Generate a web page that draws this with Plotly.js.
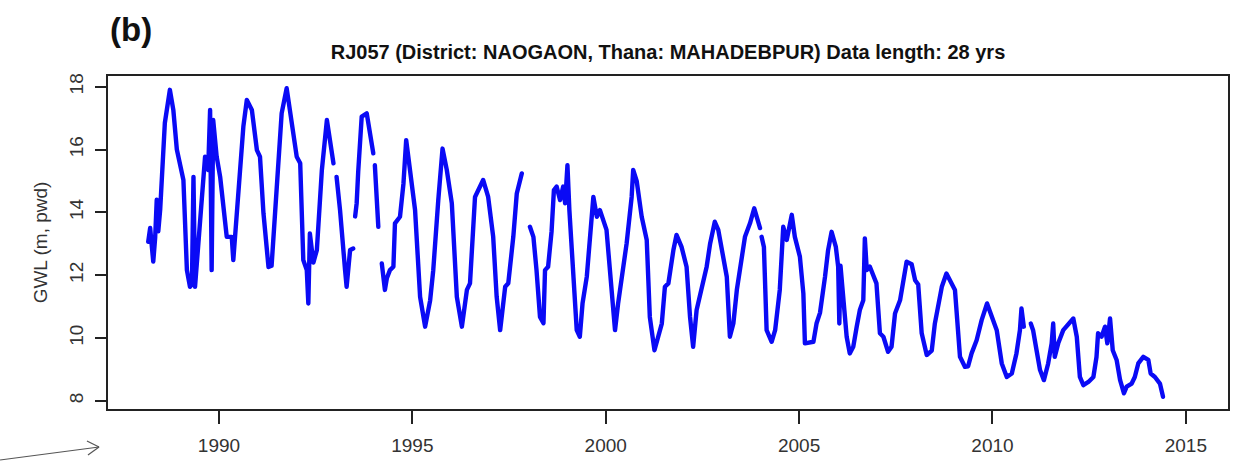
<!DOCTYPE html>
<html>
<head>
<meta charset="utf-8">
<script src="https://cdn.plot.ly/plotly-3.0.1.min.js"></script>
<style>
  html, body { margin: 0; padding: 0; background: #ffffff; }
  #chart { width: 1238px; height: 462px; }
  #chart .scatterlayer .js-line { stroke-linejoin: round !important; stroke-linecap: round !important; }
</style>
</head>
<body>
<div id="chart"></div>
<script>
// Decimal year of each reading (null value = gap in record)
const year = [
  1988.17,1988.22,1988.30,1988.35,1988.39,1988.43,1988.48,1988.52,1988.60,1988.73,1988.82,1988.91,1988.99,
  1989.08,1989.17,1989.25,1989.30,1989.34,1989.38,1989.47,1989.60,1989.64,1989.72,1989.77,1989.81,1989.85,1989.94,
  1990.03,1990.20,1990.33,1990.37,1990.46,1990.63,1990.72,1990.85,1990.98,
  1991.06,1991.15,1991.28,1991.36,1991.49,1991.62,1991.75,1991.88,
  1992.01,1992.10,1992.18,1992.27,1992.31,1992.35,1992.44,1992.53,1992.66,1992.79,1992.87,1992.96,
  1993.00,
  1993.04,1993.13,1993.26,1993.30,1993.39,1993.47,
  1993.50,
  1993.52,1993.56,1993.60,1993.69,1993.82,1993.91,1993.99,
  1994.01,
  1994.03,1994.12,
  1994.16,
  1994.21,1994.29,1994.34,1994.42,1994.51,1994.55,1994.68,1994.77,1994.84,1994.94,
  1995.07,1995.20,1995.33,1995.46,1995.54,1995.67,1995.78,1995.89,
  1996.02,1996.15,1996.28,1996.41,1996.49,1996.62,1996.83,1996.96,
  1997.09,1997.18,1997.27,1997.40,1997.48,1997.61,1997.70,1997.83,
  1997.94,
  1998.04,1998.13,1998.21,1998.30,1998.39,1998.43,1998.51,1998.60,1998.66,1998.73,1998.82,1998.90,1998.95,
  1999.01,1999.06,1999.16,1999.25,1999.33,1999.40,1999.51,1999.68,1999.77,1999.85,
  2000.02,2000.15,2000.24,2000.32,2000.45,2000.54,2000.67,2000.71,2000.80,2000.93,
  2001.06,2001.14,2001.26,2001.36,2001.45,2001.53,2001.62,2001.75,2001.83,2001.96,
  2002.09,2002.18,2002.26,2002.35,2002.48,2002.61,2002.70,2002.82,2002.91,
  2003.04,2003.13,2003.21,2003.30,2003.39,2003.51,2003.60,2003.73,2003.84,2003.99,
  2004.01,
  2004.03,2004.09,2004.16,2004.29,2004.38,2004.50,2004.59,2004.68,2004.81,2004.89,
  2005.02,2005.11,2005.15,2005.37,2005.45,2005.54,2005.67,2005.75,2005.84,2005.95,
  2006.01,2006.04,2006.07,2006.14,2006.23,2006.31,2006.40,2006.49,2006.57,2006.66,2006.70,2006.75,2006.83,
  2007.00,2007.09,2007.18,2007.30,2007.39,2007.48,2007.61,2007.78,2007.91,
  2008.00,2008.08,2008.17,2008.30,2008.43,2008.51,2008.69,2008.81,2008.94,
  2009.03,2009.16,2009.29,2009.37,2009.46,2009.59,2009.72,2009.86,2009.98,
  2010.11,2010.24,2010.37,2010.50,2010.62,2010.71,2010.75,2010.81,
  2010.90,
  2010.99,2011.05,2011.14,2011.23,2011.33,2011.44,2011.53,2011.57,2011.61,2011.70,2011.83,2011.96,
  2012.09,2012.18,2012.26,2012.35,2012.48,2012.61,2012.69,2012.73,2012.82,2012.91,2012.97,
  2013.04,2013.11,2013.21,2013.30,2013.40,2013.47,2013.60,2013.68,2013.77,2013.90,
  2014.03,2014.09,2014.20,2014.33,2014.41
];
// Groundwater level (m, pwd)
const gwl = [
  13.06,13.50,12.43,13.20,14.40,13.40,14.10,15.10,16.85,17.90,17.25,16.00,15.56,
  15.03,12.16,11.63,11.70,15.13,11.63,13.00,15.03,15.77,15.35,17.26,12.16,16.94,15.77,
  15.13,13.22,13.22,12.48,14.07,16.73,17.58,17.26,15.98,
  15.77,13.97,12.26,12.30,14.86,17.15,17.95,16.94,
  15.77,15.56,12.48,12.16,11.10,13.33,12.40,12.80,15.35,16.94,16.30,15.56,
  null,
  15.13,14.07,12.16,11.63,12.80,12.85,
  null,
  13.87,14.29,15.30,17.05,17.15,16.52,15.88,
  null,
  15.50,13.54,
  null,
  12.37,11.53,11.90,12.16,12.27,13.65,13.86,14.92,16.30,15.35,
  14.07,11.31,10.36,11.20,12.16,14.39,16.03,15.35,
  14.29,11.31,10.36,11.53,11.74,14.49,15.03,14.49,
  13.22,11.31,10.25,11.63,11.74,13.22,14.60,15.24,
  null,
  13.54,13.22,12.16,10.67,10.47,12.16,12.27,13.40,14.71,14.82,14.39,14.82,14.29,
  15.50,14.07,11.95,10.25,10.04,11.10,11.95,14.49,13.86,14.07,
  13.44,11.63,10.25,11.10,12.20,13.01,14.49,15.35,15.00,13.86,
  13.12,10.67,9.61,10.04,10.46,11.63,11.74,12.80,13.28,12.90,
  12.27,10.67,9.72,10.89,11.53,12.27,13.01,13.70,13.44,
  12.59,11.95,10.04,10.46,11.53,12.48,13.22,13.65,14.13,13.50,
  null,
  13.22,12.90,10.25,9.88,10.25,11.53,13.54,13.12,13.92,13.22,
  12.59,11.42,9.83,9.88,10.46,10.80,11.95,12.80,13.38,12.90,
  12.27,10.46,12.30,11.20,10.04,9.51,9.72,10.36,10.89,11.20,13.17,12.16,12.27,
  11.74,10.15,10.04,9.56,9.72,10.78,11.20,12.43,12.35,
  11.84,11.70,10.15,9.46,9.60,10.46,11.63,12.05,11.74,
  11.53,9.40,9.08,9.10,9.51,9.93,10.57,11.10,10.67,
  10.25,9.19,8.76,8.87,9.51,10.25,10.94,10.36,
  null,
  10.46,10.25,9.61,8.98,8.66,9.19,9.83,10.46,9.40,9.83,10.25,10.46,
  10.62,10.04,8.76,8.50,8.60,8.76,9.40,10.15,10.04,10.36,9.83,
  10.62,9.61,9.30,8.66,8.24,8.45,8.55,8.76,9.19,9.40,
  9.30,8.87,8.76,8.55,8.13
];
const xTicks = [1990, 1995, 2000, 2005, 2010, 2015];
const yTicks = [8, 10, 12, 14, 16, 18];
const plotTitle = 'RJ057 (District: NAOGAON, Thana: MAHADEBPUR) Data length: 28 yrs';
const panelLabel = '(b)';
const yLabel = 'GWL (m, pwd)';

const FONT = '"Liberation Sans", Arial, Helvetica, sans-serif';
const AX = '#222222';

const trace = {
  x: year, y: gwl, type: 'scatter', mode: 'lines',
  connectgaps: false,
  line: { color: '#0a0af5', width: 4.4 },
  hoverinfo: 'x+y'
};

const arrowGrey = '#555555';
const layout = {
  width: 1238, height: 462,
  paper_bgcolor: '#ffffff', plot_bgcolor: '#ffffff',
  margin: { l: 108, r: 10, t: 76, b: 53, pad: 0 },
  showlegend: false,
  font: { family: FONT, color: '#333333', size: 18 },
  title: {
    text: '<b>' + plotTitle + '</b>',
    font: { family: FONT, size: 20, color: '#111111' },
    x: 0.5, xref: 'paper', xanchor: 'center',
    y: 1, yref: 'paper', yanchor: 'bottom', pad: { b: 17 }
  },
  xaxis: {
    range: [1987.13, 2016.09], autorange: false,
    tickmode: 'array', tickvals: xTicks, ticktext: xTicks.map(String),
    ticks: 'outside', ticklen: 13, tickwidth: 2, tickcolor: AX,
    showline: true, linewidth: 2, linecolor: AX, mirror: true,
    showgrid: false, zeroline: false,
    tickfont: { family: FONT, size: 19, color: '#333333' },
    ticklabelstandoff: 5
  },
  yaxis: {
    range: [7.74, 18.34], autorange: false,
    tickmode: 'array', tickvals: yTicks, ticktext: yTicks.map(String),
    ticks: 'outside', ticklen: 11, tickwidth: 2, tickcolor: AX,
    showline: true, linewidth: 2, linecolor: AX, mirror: true,
    showgrid: false, zeroline: false,
    tickangle: -90,
    tickfont: { family: FONT, size: 19, color: '#333333' },
    ticklabelstandoff: 4,
    title: { text: yLabel, font: { family: FONT, size: 19, color: '#333333' }, standoff: 14 }
  },
  annotations: [
    {
      text: '<b>' + panelLabel + '</b>', xref: 'paper', yref: 'paper',
      x: 0.0, y: 1.141, xanchor: 'left', yanchor: 'middle',
      showarrow: false, font: { family: FONT, size: 33, color: '#111111' }
    }
  ],
  shapes: [
    { type: 'line', xref: 'paper', yref: 'paper', x0: -0.0964, y0: -0.1532, x1: -0.0080, y1: -0.1141,
      line: { color: arrowGrey, width: 1.2 } },
    { type: 'line', xref: 'paper', yref: 'paper', x0: -0.0080, y0: -0.1141, x1: -0.0188, y1: -0.0961,
      line: { color: arrowGrey, width: 1.2 } },
    { type: 'line', xref: 'paper', yref: 'paper', x0: -0.0080, y0: -0.1141, x1: -0.0179, y1: -0.1381,
      line: { color: arrowGrey, width: 1.2 } }
  ]
};

Plotly.newPlot('chart', [trace], layout, { staticPlot: true, displayModeBar: false });
</script>
</body>
</html>
